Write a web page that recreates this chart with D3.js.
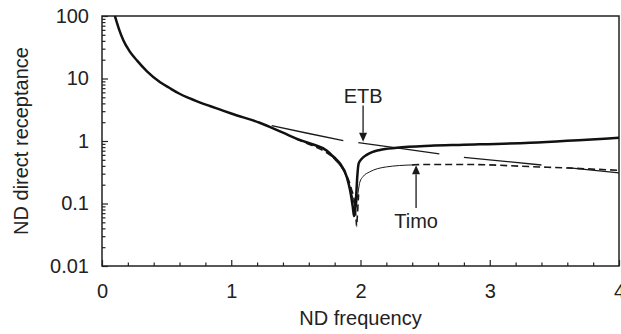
<!DOCTYPE html>
<html>
<head>
<meta charset="utf-8">
<script src="https://cdn.jsdelivr.net/npm/d3@7"></script>
<style>
  body { margin: 0; background: #fff; }
  svg { display: block; }
  text { font-family: "Liberation Sans", Arial, sans-serif; fill: #222; }
</style>
</head>
<body>
<svg id="chart" width="621" height="334"></svg>
<script>
// ETB exact response (thick solid)
const etbFreq = [0.10, 0.13, 0.165, 0.21, 0.27, 0.35, 0.45, 0.52, 0.60, 0.68, 0.76, 0.84, 0.91, 1.0, 1.22, 1.40, 1.53, 1.64, 1.74, 1.764, 1.80, 1.84, 1.893, 1.919, 1.94, 1.95, 1.958, 1.965, 1.975, 1.986, 2.01, 2.048, 2.15, 2.28, 2.54, 2.8, 3.31, 4.0];
const etbExact = [100, 63, 41, 28, 19.5, 12.9, 8.7, 7.1, 5.7, 4.8, 4.1, 3.6, 3.2, 2.75, 1.96, 1.36, 1.04, 0.87, 0.70, 0.63, 0.54, 0.44, 0.27, 0.164, 0.089, 0.063, 0.075, 0.114, 0.27, 0.44, 0.52, 0.60, 0.72, 0.78, 0.84, 0.87, 0.94, 1.13];

// Timoshenko exact response (thin solid)
const timoFreq = [1.40, 1.53, 1.64, 1.74, 1.80, 1.85, 1.90, 1.93, 1.95, 1.96, 1.968, 1.975, 1.985, 1.995, 2.02, 2.07, 2.13, 2.2, 2.3, 2.42];
const timoExact = [1.36, 1.04, 0.86, 0.68, 0.50, 0.38, 0.24, 0.15, 0.10, 0.085, 0.09, 0.12, 0.17, 0.22, 0.27, 0.32, 0.36, 0.385, 0.405, 0.415];

// Timoshenko approximation (dashed; null = hidden under the thin curve)
const timoApproxFreq = [1.50, 1.60, 1.70, 1.80, 1.88, 1.93, 1.955, 1.965, 1.97, 1.975, 1.985, 2.2, 2.4, 2.5, 2.85, 3.3, 3.6, 4.0];
const timoApprox = [1.08, 0.89, 0.72, 0.52, 0.32, 0.17, 0.10, 0.06, 0.043, 0.06, 0.14, null, 0.415, 0.42, 0.42, 0.39, 0.37, 0.34];

// ETB approximation (thin long-dash; null = gap)
const etbApproxFreq = [1.313, 1.59, 1.867, 1.92, 1.983, 2.307, 2.61, 2.7, 2.80, 3.40, 3.5, 3.60, 4.0];
const etbApprox = [1.76, 1.33, 1.01, null, 0.94, 0.76, 0.62, null, 0.548, 0.413, null, 0.375, 0.31];

const xTicks = [0, 1, 2, 3, 4];
const xMinor = [0.2, 0.4, 0.6, 0.8, 1.2, 1.4, 1.6, 1.8, 2.2, 2.4, 2.6, 2.8, 3.2, 3.4, 3.6, 3.8];
const yTicks = [100, 10, 1, 0.1, 0.01];
const yTickLabels = ['100', '10', '1', '0.1', '0.01'];
const yMinor = [2, 3, 4, 5, 6, 7, 8, 9];

// annotations: [label, freq, tip value, tail value, text value]
const arrowNotes = [
  ['ETB', 2.02, 0.975, 3.7, 4.1],
  ['Timo', 2.43, 0.41, 0.085, 0.041]
];

const width = 621, height = 334;
const margin = { top: 16, right: 2, bottom: 68, left: 102 };

const svg = d3.select('#chart');

const x = d3.scaleLinear()
  .domain([0, 4])
  .range([margin.left, width - margin.right]);

const y = d3.scaleLog()
  .domain([0.01, 100])
  .range([height - margin.bottom, margin.top]);

// minor ticks
const yMinorVals = [0.01, 0.1, 1, 10].flatMap(d => yMinor.map(m => d * m));

svg.append('g')
  .attr('transform', `translate(0,${height - margin.bottom})`)
  .call(d3.axisBottom(x).tickValues(xMinor).tickSize(-3.5).tickFormat(''))
  .call(g => g.select('.domain').remove());

svg.append('g')
  .attr('transform', `translate(${margin.left},0)`)
  .call(d3.axisLeft(y).tickValues(yMinorVals).tickSize(-3.5).tickFormat(''))
  .call(g => g.select('.domain').remove());

// major ticks
svg.append('g')
  .attr('transform', `translate(0,${height - margin.bottom})`)
  .call(d3.axisBottom(x).tickValues(xTicks).tickSize(-6).tickPadding(18).tickFormat(d3.format('d')))
  .call(g => g.select('.domain').remove())
  .call(g => g.selectAll('text').style('font-size', '20px').attr('fill', '#222'));

svg.append('g')
  .attr('transform', `translate(${margin.left},0)`)
  .call(d3.axisLeft(y).tickValues(yTicks).tickSize(-6).tickPadding(13)
    .tickFormat((d, i) => yTickLabels[i]))
  .call(g => g.select('.domain').remove())
  .call(g => g.selectAll('text').style('font-size', '20px').attr('fill', '#222'));

svg.selectAll('.tick line').attr('stroke', '#222').attr('stroke-width', 1.2);

// frame
svg.append('rect')
  .attr('x', x(0))
  .attr('y', y(100))
  .attr('width', x(4) - x(0))
  .attr('height', y(0.01) - y(100))
  .attr('fill', 'none')
  .attr('stroke', '#222')
  .attr('stroke-width', 1.5);

// axis titles
svg.append('text')
  .attr('x', (x(0) + x(4)) / 2)
  .attr('y', 325)
  .attr('text-anchor', 'middle')
  .style('font-size', '20px')
  .text('ND frequency');

svg.append('text')
  .attr('transform', `translate(28,${(y(100) + y(0.01)) / 2}) rotate(-90)`)
  .attr('text-anchor', 'middle')
  .style('font-size', '20px')
  .text('ND direct receptance');

const line = d3.line()
  .defined(d => d[1] != null)
  .x(d => x(d[0]))
  .y(d => y(d[1]))
  .curve(d3.curveMonotoneX);

const plot = svg.append('g');

plot.append('path')
  .datum(d3.zip(etbApproxFreq, etbApprox))
  .attr('fill', 'none')
  .attr('stroke', '#1a1a1a')
  .attr('stroke-width', 1.3)
  .attr('d', line);

plot.append('path')
  .datum(d3.zip(timoApproxFreq, timoApprox))
  .attr('fill', 'none')
  .attr('stroke', '#1a1a1a')
  .attr('stroke-width', 1.6)
  .attr('stroke-dasharray', '7,4')
  .attr('d', line);

plot.append('path')
  .datum(d3.zip(timoFreq, timoExact))
  .attr('fill', 'none')
  .attr('stroke', '#1a1a1a')
  .attr('stroke-width', 1)
  .attr('d', line);

plot.append('path')
  .datum(d3.zip(etbFreq, etbExact))
  .attr('fill', 'none')
  .attr('stroke', '#111')
  .attr('stroke-width', 2.5)
  .attr('stroke-linejoin', 'round')
  .attr('d', line);

// annotation arrows
const notes = svg.append('g');
arrowNotes.forEach(([label, f, tip, tail, tv]) => {
  const ax = x(f), ty = y(tip), ly = y(tail);
  const dir = ly < ty ? 1 : -1;  // arrow points down when tail is above tip
  const head = 9;
  notes.append('line')
    .attr('x1', ax).attr('x2', ax)
    .attr('y1', ly).attr('y2', ty - dir * head)
    .attr('stroke', '#1a1a1a').attr('stroke-width', 1.3);
  notes.append('path')
    .attr('d', `M${ax},${ty} L${ax - 4},${ty - dir * head} L${ax + 4},${ty - dir * head} Z`)
    .attr('fill', '#1a1a1a');
  notes.append('text')
    .attr('x', ax)
    .attr('y', y(tv))
    .attr('text-anchor', 'middle')
    .style('font-size', '20px')
    .text(label);
});
</script>
</body>
</html>
